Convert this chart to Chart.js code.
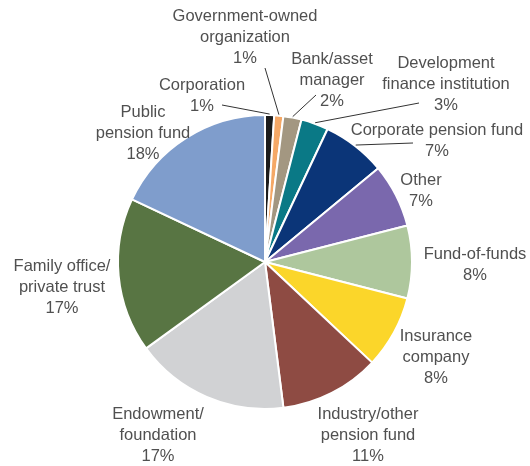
<!DOCTYPE html>
<html>
<head>
<meta charset="utf-8">
<script src="https://cdn.jsdelivr.net/npm/chart.js@4"></script>
<style>
  html, body { margin: 0; padding: 0; background: #fff; }
  #wrap { width: 530px; height: 466px; }
</style>
</head>
<body>
<div id="wrap"><canvas id="investorChart" width="530" height="466"></canvas></div>
<script>
// investor types, clockwise from 12 o'clock
const categories = [
  ['Corporation'],
  ['Government-owned', 'organization'],
  ['Bank/asset', 'manager'],
  ['Development', 'finance institution'],
  ['Corporate pension fund'],
  ['Other'],
  ['Fund-of-funds'],
  ['Insurance', 'company'],
  ['Industry/other', 'pension fund'],
  ['Endowment/', 'foundation'],
  ['Family office/', 'private trust'],
  ['Public', 'pension fund']
];
const shares = [1, 1, 2, 3, 7, 7, 8, 8, 11, 17, 17, 18];

const sliceColors = [
  '#1c1c1c', '#f5a866', '#a39781', '#0a7986', '#0b3578', '#7a68ad',
  '#aec79d', '#fbd62a', '#8e4b43', '#d1d2d4', '#587543', '#7f9dcc'
];

// label block centre, offset from pie centre; lead = start of leader line
const labelLayout = [
  { dx: -63, dy: -166, lead: [-43, -157] },
  { dx: -20, dy: -225, lead: [0, -194] },
  { dx: 67, dy: -182, lead: [51, -167] },
  { dx: 181, dy: -178, lead: [154, -159] },
  { dx: 172, dy: -121, lead: [148, -119] },
  { dx: 156, dy: -71 },
  { dx: 210, dy: 3 },
  { dx: 171, dy: 95 },
  { dx: 103, dy: 173 },
  { dx: -107, dy: 173 },
  { dx: -203, dy: 25 },
  { dx: -122, dy: -129 }
];

const lineHeight = 21;

const pieLabels = {
  id: 'pieLabels',
  afterDatasetsDraw(chart) {
    const ctx = chart.ctx;
    const meta = chart.getDatasetMeta(0);
    const total = shares.reduce((a, b) => a + b, 0);
    ctx.save();
    meta.data.forEach((arc, i) => {
      const { x, y, startAngle, endAngle, outerRadius } = arc.getProps(['x', 'y', 'startAngle', 'endAngle', 'outerRadius'], true);
      const pos = labelLayout[i];
      const lx = x + pos.dx;
      const ly = y + pos.dy;

      if (pos.lead) {
        const mid = (startAngle + endAngle) / 2;
        const r = outerRadius + 1;
        ctx.beginPath();
        ctx.strokeStyle = '#333';
        ctx.lineWidth = 1;
        ctx.moveTo(x + pos.lead[0], y + pos.lead[1]);
        ctx.lineTo(x + Math.cos(mid) * r, y + Math.sin(mid) * r);
        ctx.stroke();
      }

      const lines = categories[i].concat([Math.round(shares[i] / total * 100) + '%']);
      const top = ly - (lines.length - 1) * lineHeight / 2;
      ctx.fillStyle = '#505050';
      ctx.font = '16.5px "Liberation Sans", Arial, sans-serif';
      ctx.textAlign = 'center';
      ctx.textBaseline = 'middle';
      lines.forEach((t, k) => ctx.fillText(t, lx, top + k * lineHeight));
    });
    ctx.restore();
  }
};

const ctx = document.getElementById('investorChart').getContext('2d');
new Chart(ctx, {
  type: 'pie',
  data: {
    labels: categories.map(c => c.join(' ')),
    datasets: [{
      data: shares,
      backgroundColor: sliceColors,
      borderColor: '#ffffff',
      borderWidth: 2
    }]
  },
  options: {
    responsive: false,
    animation: false,
    layout: { padding: { left: 117, right: 117, top: 114, bottom: 56 } },
    plugins: {
      legend: { display: false },
      tooltip: { enabled: false }
    }
  },
  plugins: [pieLabels]
});
</script>
</body>
</html>
